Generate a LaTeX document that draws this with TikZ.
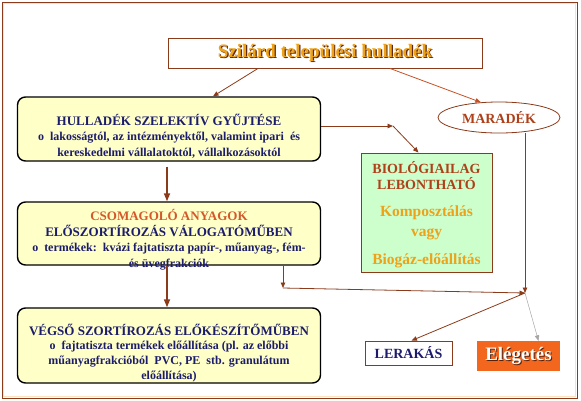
\documentclass[tikz,border=0pt]{standalone}
\usepackage{fontspec}
\setmainfont{Liberation Serif}
\usetikzlibrary{arrows.meta, positioning, shapes.geometric, calc}
\definecolor{barna}{HTML}{8B3A1A}
\definecolor{sotetkek}{HTML}{1C1C6C}
\definecolor{sargaszin}{HTML}{FFFFC8}
\definecolor{zoldszin}{HTML}{CCFFCC}
\definecolor{arany}{HTML}{EDA21A}
\definecolor{vorosbarna}{HTML}{B0401A}
\definecolor{narancs}{HTML}{D4582A}
\definecolor{egetes}{HTML}{F2661E}
\newcommand\fejbetu{\bfseries\fontsize{13}{16}\selectfont}

\begin{document}
\begin{tikzpicture}[x=1pt,y=-1pt]
\tikzset{
  sarga/.style={draw=black, line width=1.4pt, rounded corners=8pt, fill=sargaszin,
    minimum width=303pt, inner sep=0pt},
  szoveg/.style={align=center, inner sep=0pt, text=sotetkek, font=\bfseries\fontsize{12}{15.5}\selectfont},
  nyil/.style={draw=barna, line width=0.8pt, -{Triangle[width=4.5pt,length=5.5pt]}},
  vastag/.style={draw=barna, line width=1.6pt, -{Triangle[width=6pt,length=8pt]}},
}
\useasboundingbox (0,0) rectangle (581,400);
% outer frame
\draw[barna, line width=0.8pt] (2,2) rectangle (577,398);
\draw[orange!25, line width=1pt] (3.6,3.6) rectangle (575.4,396.4);
% title
\node[draw=barna, line width=0.9pt, fill=white, minimum width=314pt, minimum height=30pt, inner sep=0pt] (cim) at (325,53) {};
\node[text=barna!70!black, font=\bfseries\fontsize{19}{22}\selectfont] (cimarnyek) at (326.2,54.2) {Szilárd települési hulladék};
\node[text=arany, font=\bfseries\fontsize{19}{22}\selectfont] (cimszoveg) at (325,53) {Szilárd települési hulladék};
% the three yellow boxes
\node[sarga, minimum height=64pt] (gyujtes) at (169,129) {};
\node[szoveg] (gyujtesszoveg) at (169,136) {{\fejbetu HULLADÉK SZELEKTÍV GYŰJTÉSE}\\
  o\enspace lakosságtól, az intézményektől, valamint ipari\enspace és\\
  kereskedelmi vállalatoktól, vállalkozásoktól};
\node[sarga, minimum height=63pt] (csom) at (169,233.5) {};
\node[szoveg] (csomszoveg) at (169,239.5) {{\fejbetu\color{narancs}CSOMAGOLÓ ANYAGOK}\\
  {\fejbetu ELŐSZORTÍROZÁS VÁLOGATÓMŰBEN}\\
  o\enspace termékek:\enspace kvázi fajtatiszta papír-, műanyag-, fém-\\
  és üvegfrakciók};
\node[sarga, minimum height=75pt] (vegso) at (169,345.5) {};
\node[szoveg, font=\bfseries\fontsize{12}{14.8}\selectfont] (vegsoszoveg) at (169,353) {{\fejbetu VÉGSŐ SZORTÍROZÁS ELŐKÉSZÍTŐMŰBEN}\\
  o\enspace fajtatiszta termékek előállítása (pl. az előbbi\\
  műanyagfrakcióból\enspace PVC, PE\enspace stb. granulátum\\
  előállítása)};
% right side
\node[ellipse, draw=barna, line width=0.8pt, fill=white, minimum width=122pt, minimum height=31pt, inner sep=0pt,
  text=vorosbarna, font=\bfseries\fontsize{14}{16}\selectfont] (maradek) at (499,117.5) {MARADÉK};
\node[draw=barna, line width=0.9pt, fill=zoldszin, minimum width=131pt, minimum height=119pt, inner sep=0pt] (bio) at (426.5,212.5) {};
\node[align=center, inner sep=0pt, text=vorosbarna, font=\bfseries\fontsize{14}{16}\selectfont] (biocim) at (426.5,175.5) {BIOLÓGIAILAG\\LEBONTHATÓ};
\node[align=center, inner sep=0pt, text=arany, font=\bfseries\fontsize{15.5}{20}\selectfont] (bioszoveg) at (426.5,223) {Komposztálás\\vagy};
\node[inner sep=0pt, text=arany, font=\bfseries\fontsize{15.5}{20}\selectfont] (biogaz) at (426.5,261) {Biogáz-előállítás};
\node[draw=barna, line width=0.8pt, fill=white, minimum width=87pt, minimum height=24pt, inner sep=0pt,
  text=sotetkek, font=\bfseries\fontsize{14}{16}\selectfont] (lerakas) at (408.5,353) {LERAKÁS};
\node[fill=egetes, minimum width=83pt, minimum height=30pt, inner sep=0pt] (eleg) at (518.5,356) {};
\node[text=barna!60!black, font=\bfseries\fontsize{19}{22}\selectfont] (elegarnyek) at (519.5,357) {Elégetés};
\node[text=white, font=\bfseries\fontsize{19}{22}\selectfont] (elegszoveg) at (518.5,356) {Elégetés};
% connector points
\coordinate (tores) at (393,126);
\coordinate (lefele) at (283,288);
\coordinate (gyujto) at (525,293);
% connectors
\draw[nyil] ($(cim.south)+(-67,0)$) -- ($(gyujtes.north)+(44,0)$);
\draw[nyil, draw=narancs!80!barna] ($(cim.south)+(65,0)$) -- (maradek.140);
\draw[nyil] ($(gyujtes.east)+(0,-3)$) -- (tores);
\draw[nyil] (tores) -- ($(bio.north)+(-8,0)$);
\draw[vastag, shorten <=5pt] ($(gyujtes.south)+(-2,0)$) -- ($(csom.north)+(-2,0)$);
\draw[vastag] ($(csom.south)+(-2,0)$) -- ($(vegso.north)+(-2,0)$);
\draw[nyil] ($(csom.south)+(114,0)$) -- (lefele);
\draw[nyil] (lefele) -- (gyujto);
\draw[nyil] ($(maradek.south)+(26,0)$) -- (gyujto);
\draw[nyil] (gyujto) -- ($(lerakas.north)+(3,0)$);
\draw[nyil, draw=gray!70, line width=0.5pt] (gyujto) -- ($(eleg.north)+(20,0)$);
\end{tikzpicture}
\end{document}
